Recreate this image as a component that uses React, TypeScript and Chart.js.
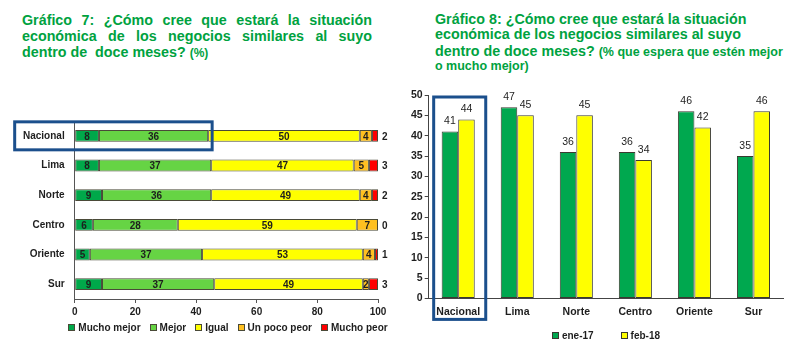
import React, { useEffect, useRef } from 'react';
import { Chart, registerables } from 'chart.js';

Chart.register(...registerables);

const FONT = '"Liberation Sans", Arial, Helvetica, sans-serif';
const TITLE_GREEN = '#00a23f';
const NAVY = '#1b4f8c';
const TEXT = '#1e1e1e';

// ---- Gráfico 7 data ----
const regions = ['Nacional', 'Lima', 'Norte', 'Centro', 'Oriente', 'Sur'];
const muchoMejor = [8, 8, 9, 6, 5, 9];
const mejor = [36, 37, 36, 28, 37, 37];
const igual = [50, 47, 49, 59, 53, 49];
const unPocoPeor = [4, 5, 4, 7, 4, 2];
const muchoPeor = [2, 3, 2, 0, 1, 3];
const legend7 = ['Mucho mejor', 'Mejor', 'Igual', 'Un poco peor', 'Mucho peor'];
const xTicks7 = [0, 20, 40, 60, 80, 100];
const colors7 = ['#00a84a', '#66d444', '#ffff00', '#ffc020', '#ff0000'];

// ---- Gráfico 8 data ----
const series8 = ['ene-17', 'feb-18'];
const ene17 = [41, 47, 36, 36, 46, 35];
const feb18 = [44, 45, 45, 34, 42, 46];
const yTicks8 = [0, 5, 10, 15, 20, 25, 30, 35, 40, 45, 50];
const colors8 = ['#00a84f', '#ffff00'];

function makeLegend(id: string, centerX: number, offsetY: number, itemGap: number) {
  return {
    id,
    afterDraw(chart: any) {
      const { ctx, chartArea } = chart;
      const box = 7;
      const gap = 3;
      ctx.save();
      ctx.font = `bold 10px ${FONT}`;
      const items = chart.data.datasets.map((ds: any) => ({
        text: ds.label,
        fill: ds.backgroundColor,
        stroke: ds.borderColor,
      }));
      const widths = items.map((it: any) => ctx.measureText(it.text).width);
      const total =
        widths.reduce((a: number, w: number) => a + box + gap + w, 0) + itemGap * (items.length - 1);
      let x = centerX - total / 2;
      const y = chartArea.bottom + offsetY;
      items.forEach((it: any, i: number) => {
        const bx = Math.round(x);
        const by = Math.round(y - box / 2);
        ctx.fillStyle = it.fill;
        ctx.fillRect(bx, by, box, box);
        ctx.strokeStyle = it.stroke;
        ctx.lineWidth = 1;
        ctx.strokeRect(bx + 0.5, by + 0.5, box - 1, box - 1);
        ctx.fillStyle = TEXT;
        ctx.textAlign = 'left';
        ctx.textBaseline = 'middle';
        ctx.fillText(it.text, x + box + gap, y + 1);
        x += box + gap + widths[i] + itemGap;
      });
      ctx.restore();
    },
  };
}

const labels7Plugin = {
  id: 'labels7',
  afterDatasetsDraw(chart: any) {
    const ctx = chart.ctx;
    ctx.save();
    ctx.font = `bold 10px ${FONT}`;
    ctx.fillStyle = TEXT;
    ctx.textBaseline = 'middle';
    chart.data.datasets.forEach((ds: any, di: number) => {
      const meta = chart.getDatasetMeta(di);
      meta.data.forEach((bar: any, i: number) => {
        const v = ds.data[i];
        const p = bar.getProps(['x', 'y', 'base'], true);
        if (di === chart.data.datasets.length - 1) {
          ctx.textAlign = 'left';
          ctx.fillText(String(v), p.x + 4, p.y + 1);
        } else {
          ctx.textAlign = 'center';
          ctx.fillText(String(v), (p.x + p.base) / 2, p.y + 1);
        }
      });
    });
    ctx.restore();
  },
};

const box7Plugin = {
  id: 'box7',
  afterDraw(chart: any) {
    const { ctx, chartArea, scales } = chart;
    const y = scales.y;
    const x = scales.x;
    const cy = y.getPixelForValue(0);
    const left = chartArea.left - 60;
    const right = x.getPixelForValue(muchoMejor[0] + mejor[0]) + 4;
    ctx.save();
    ctx.strokeStyle = NAVY;
    ctx.lineWidth = 3;
    ctx.strokeRect(left, cy - 14, right - left, 28);
    ctx.restore();
  },
};

const labels8Plugin = {
  id: 'labels8',
  afterDatasetsDraw(chart: any) {
    const ctx = chart.ctx;
    ctx.save();
    ctx.font = `10.5px ${FONT}`;
    ctx.fillStyle = TEXT;
    ctx.textAlign = 'center';
    ctx.textBaseline = 'bottom';
    chart.data.datasets.forEach((ds: any, di: number) => {
      const meta = chart.getDatasetMeta(di);
      meta.data.forEach((bar: any, i: number) => {
        const p = bar.getProps(['x', 'y'], true);
        ctx.fillText(String(ds.data[i]), p.x, p.y - 5);
      });
    });
    ctx.restore();
  },
};

const box8Plugin = {
  id: 'box8',
  afterDraw(chart: any) {
    const { ctx, chartArea, scales } = chart;
    const x = scales.x;
    const y = scales.y;
    const band = chartArea.width / regions.length;
    const cx = x.getPixelForValue(0);
    const left = cx - band / 2 + 5;
    const right = cx + band / 2 - 2;
    const top = y.getPixelForValue(50) + 2;
    const bottom = chartArea.bottom + 21;
    ctx.save();
    ctx.strokeStyle = NAVY;
    ctx.lineWidth = 3;
    ctx.strokeRect(left, top, right - left, bottom - top);
    ctx.restore();
  },
};

function Chart7() {
  const ref = useRef<HTMLCanvasElement>(null);
  useEffect(() => {
    const series = [muchoMejor, mejor, igual, unPocoPeor, muchoPeor];
    const chart = new Chart(ref.current as HTMLCanvasElement, {
      type: 'bar',
      data: {
        labels: regions,
        datasets: series.map((d, i) => ({
          label: legend7[i],
          data: d,
          backgroundColor: colors7[i],
          borderColor: '#4a4a38',
          borderWidth: 1,
          borderSkipped: false,
          barPercentage: 0.4,
          categoryPercentage: 1,
        })),
      },
      options: {
        indexAxis: 'y',
        responsive: false,
        animation: false,
        layout: { padding: { left: 13, right: 22, top: 15, bottom: 28 } },
        scales: {
          x: {
            stacked: true,
            min: 0,
            max: 100,
            afterBuildTicks: (s: any) => {
              s.ticks = xTicks7.map((v) => ({ value: v }));
            },
            ticks: { padding: 3, color: TEXT, font: { size: 10, weight: 'bold', family: FONT } },
            grid: { drawOnChartArea: false, tickLength: 4, color: '#555' },
            border: { color: '#555' },
          },
          y: {
            stacked: true,
            ticks: { padding: 10, color: TEXT, font: { size: 10, weight: 'bold', family: FONT } },
            grid: { drawOnChartArea: false, drawTicks: false },
            border: { color: '#555' },
          },
        },
        plugins: {
          legend: { display: false },
          tooltip: { enabled: false },
        },
      } as any,
      plugins: [labels7Plugin, box7Plugin, makeLegend('legend7', 228, 28, 9)],
    });
    return () => chart.destroy();
  }, []);
  return (
    <canvas
      ref={ref}
      width={400}
      height={244}
      style={{ position: 'absolute', left: 0, top: 105, width: 400, height: 244 }}
    />
  );
}

function Chart8() {
  const ref = useRef<HTMLCanvasElement>(null);
  useEffect(() => {
    const series = [ene17, feb18];
    const chart = new Chart(ref.current as HTMLCanvasElement, {
      type: 'bar',
      data: {
        labels: regions,
        datasets: series.map((d, i) => ({
          label: series8[i],
          data: d,
          backgroundColor: colors8[i],
          borderColor: '#3a3a30',
          borderWidth: 1,
          borderSkipped: false,
          barPercentage: 1,
          categoryPercentage: 0.56,
        })),
      },
      options: {
        responsive: false,
        animation: false,
        layout: { padding: { left: 9, right: 17, top: 18, bottom: 24 } },
        scales: {
          x: {
            ticks: { padding: 7, color: TEXT, font: { size: 10.5, weight: 'bold', family: FONT } },
            grid: { display: false, drawTicks: false },
            border: { color: '#444' },
          },
          y: {
            min: 0,
            max: 50,
            afterBuildTicks: (s: any) => {
              s.ticks = yTicks8.map((v) => ({ value: v }));
            },
            ticks: { padding: 2, color: TEXT, font: { size: 10.5, weight: 'bold', family: FONT } },
            grid: { drawOnChartArea: false, tickLength: 4, color: '#444' },
            border: { color: '#444' },
          },
        },
        plugins: {
          legend: { display: false },
          tooltip: { enabled: false },
        },
      } as any,
      plugins: [labels8Plugin, box8Plugin, makeLegend('legend8', 206, 37, 27)],
    });
    return () => chart.destroy();
  }, []);
  return (
    <canvas
      ref={ref}
      width={400}
      height={272}
      style={{ position: 'absolute', left: 400, top: 77, width: 400, height: 272 }}
    />
  );
}

const lineBase: React.CSSProperties = {
  position: 'absolute',
  fontFamily: FONT,
  fontWeight: 'bold',
  color: TITLE_GREEN,
  fontSize: '14.3px',
  lineHeight: '16px',
  whiteSpace: 'nowrap',
};

const justified: React.CSSProperties = {
  ...lineBase,
  whiteSpace: 'normal',
  textAlign: 'justify',
  textAlignLast: 'justify' as any,
  width: 350,
};

export default function App() {
  return (
    <div
      style={{
        position: 'absolute',
        left: 0,
        top: 0,
        width: 800,
        height: 349,
        background: '#ffffff',
        overflow: 'hidden',
      }}
    >
      <div style={{ ...justified, left: 22, top: 12 }}>Gráfico 7: ¿Cómo cree que estará la situación</div>
      <div style={{ ...justified, left: 22, top: 28 }}>económica de los negocios similares al suyo</div>
      <div style={{ ...lineBase, left: 22, top: 44 }}>
        dentro de&nbsp; doce meses? <span style={{ fontSize: '12px' }}>(%)</span>
      </div>

      <div style={{ ...lineBase, left: 435, top: 11 }}>Gráfico 8: ¿Cómo cree que estará la situación</div>
      <div style={{ ...lineBase, left: 435, top: 26 }}>económica de los negocios similares al suyo</div>
      <div style={{ ...lineBase, left: 435, top: 43 }}>
        dentro de doce meses? <span style={{ fontSize: '12.5px' }}>(% que espera que estén mejor</span>
      </div>
      <div style={{ ...lineBase, left: 435, top: 58, fontSize: '12.5px' }}>o mucho mejor)</div>

      <Chart7 />
      <Chart8 />
    </div>
  );
}
